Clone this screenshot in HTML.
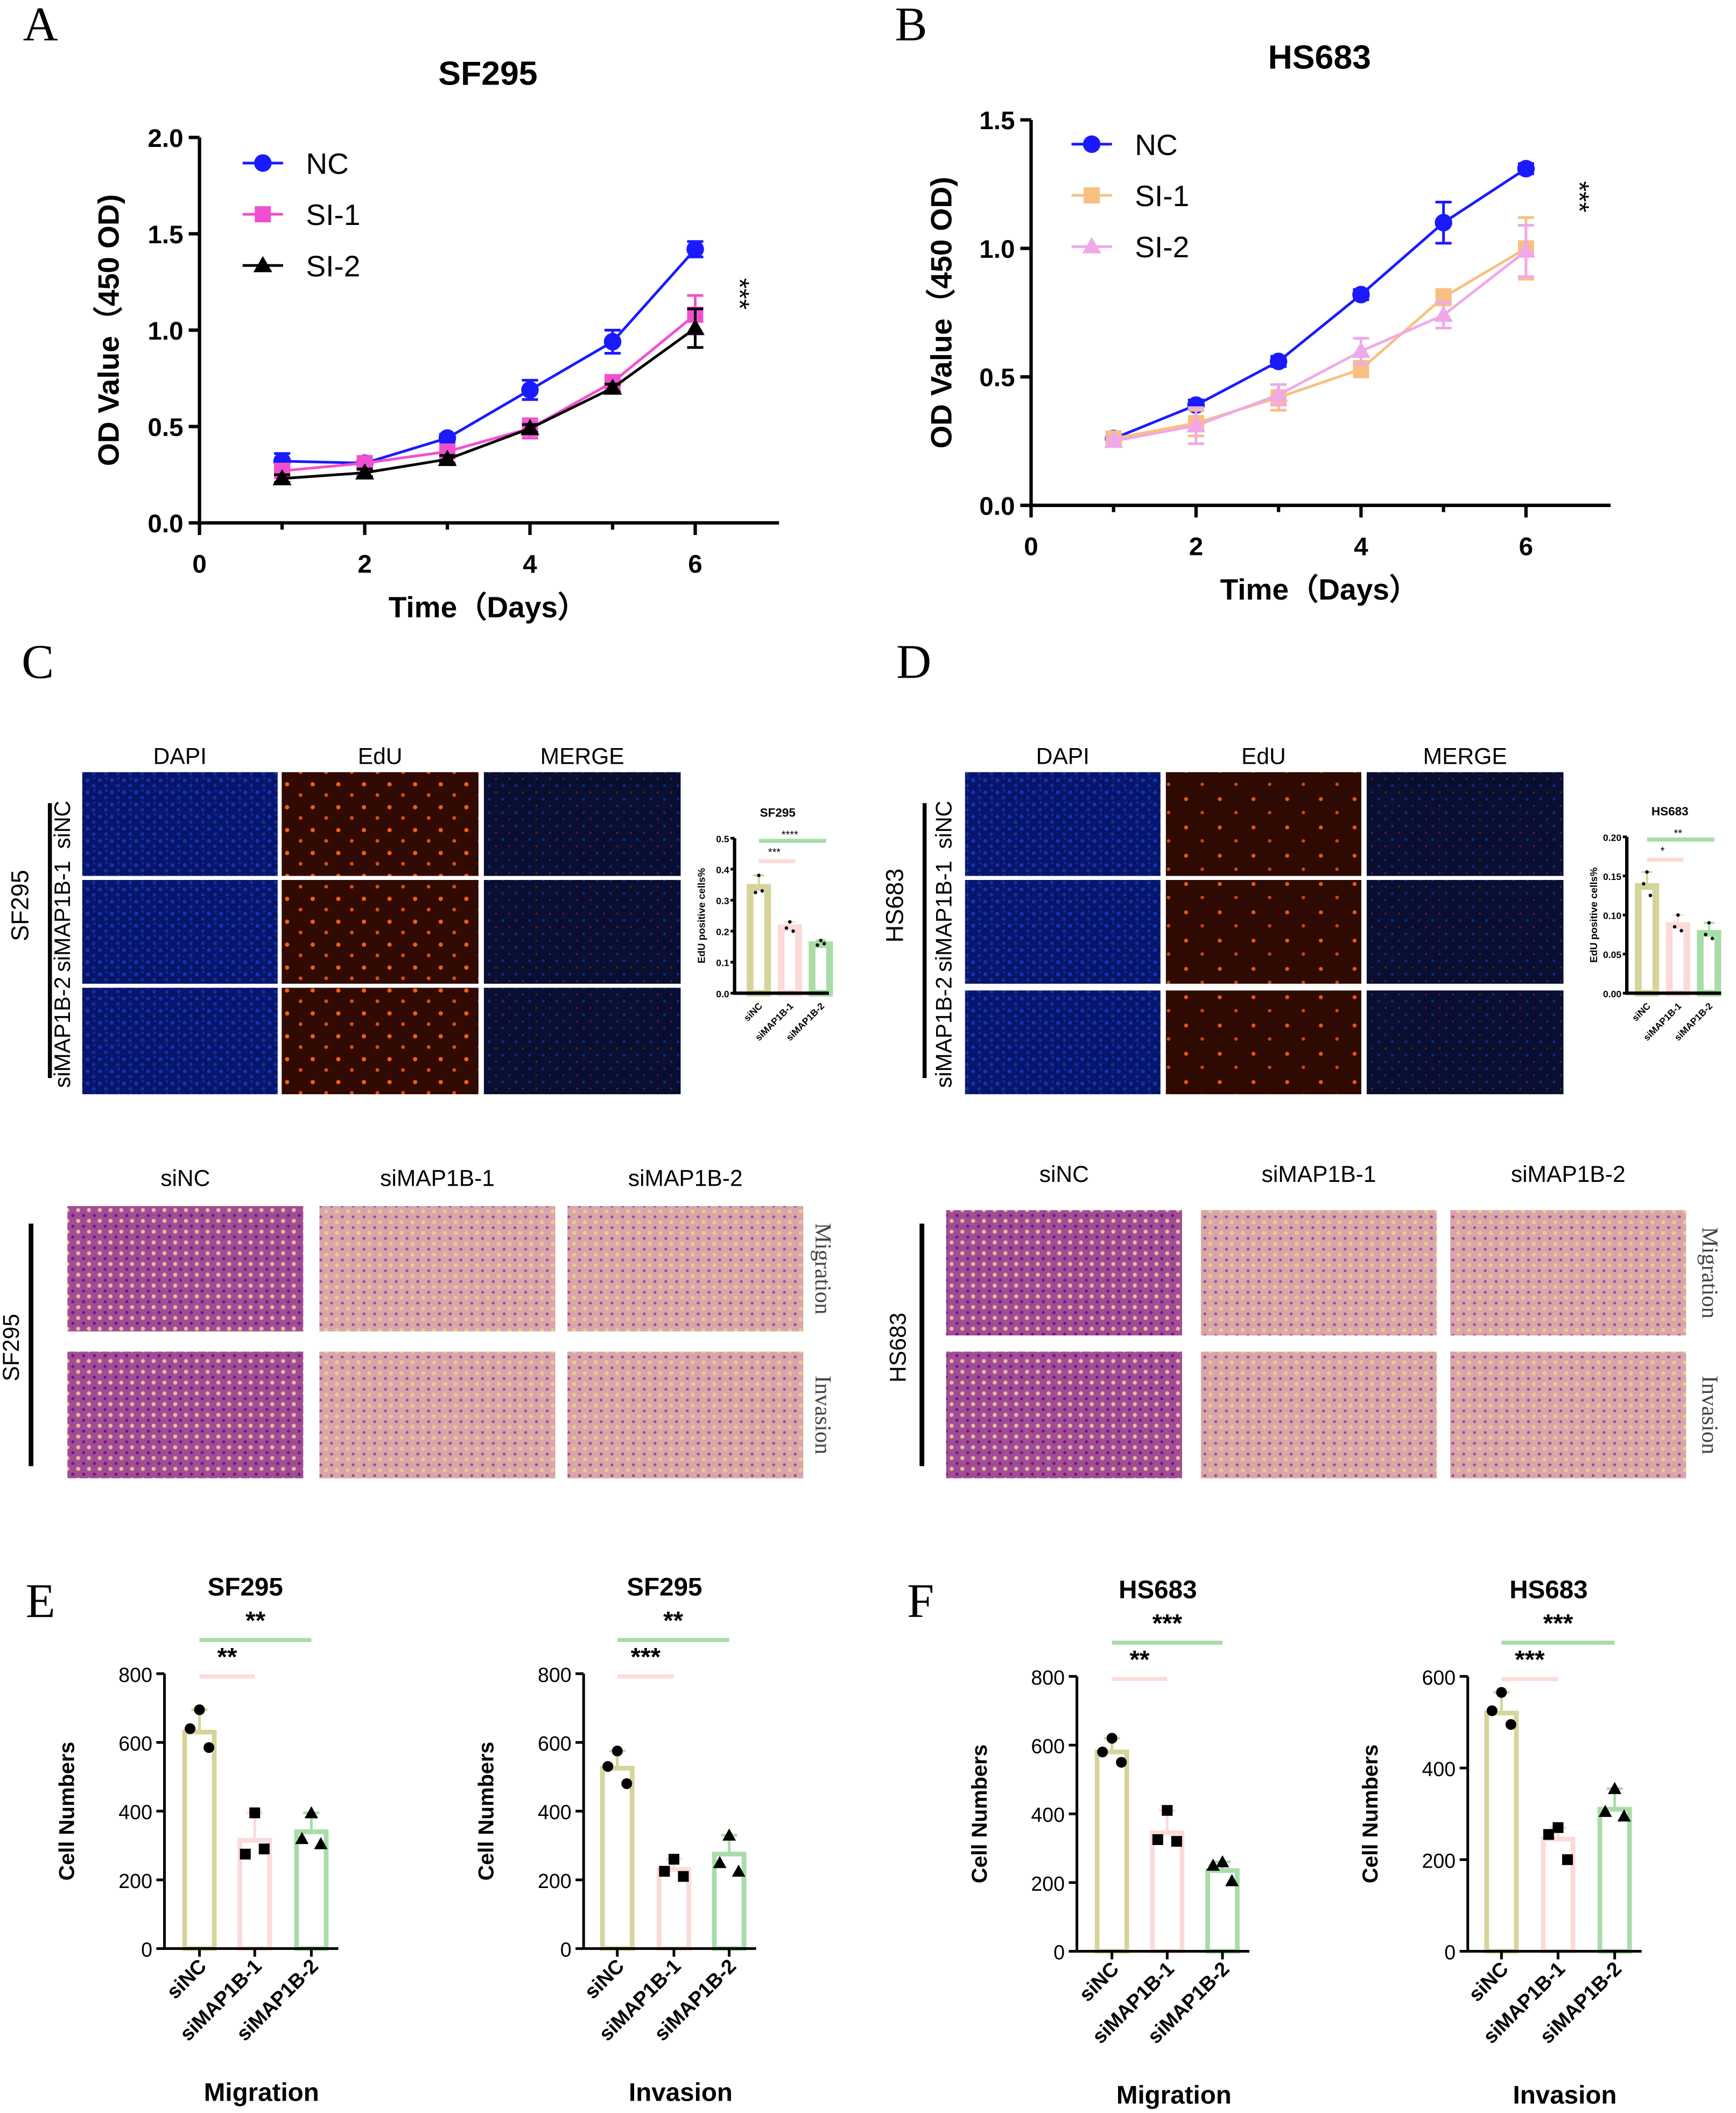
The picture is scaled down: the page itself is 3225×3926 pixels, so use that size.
<!DOCTYPE html>
<html><head><meta charset="utf-8"><style>
html,body{margin:0;padding:0;background:#fff;}
svg{display:block;font-family:"Liberation Sans",sans-serif;}
</style></head><body>
<svg id="fig" xmlns="http://www.w3.org/2000/svg" width="3225" height="3926" viewBox="0 0 1288 1568">
<defs>
<pattern id="pDapi" width="9" height="9" patternUnits="userSpaceOnUse"><rect width="9" height="9" fill="#07156a"/><circle cx="2" cy="3" r="1.5" fill="#1532b0"/><circle cx="6.5" cy="7" r="1.4" fill="#142ea0"/><circle cx="7" cy="1.5" r="1" fill="#12289a"/></pattern>
<pattern id="pEdu" width="19" height="17" patternUnits="userSpaceOnUse"><rect width="19" height="17" fill="#300a03"/><circle cx="4" cy="4" r="1.6" fill="#f06010"/><circle cx="14" cy="12" r="1.4" fill="#d85010"/></pattern>
<pattern id="pEdu2" width="25" height="21" patternUnits="userSpaceOnUse"><rect width="25" height="21" fill="#2e0a03"/><circle cx="5" cy="5" r="1.5" fill="#e85810"/><circle cx="17" cy="15" r="1.3" fill="#c84a10"/></pattern>
<pattern id="pMerge" width="10" height="10" patternUnits="userSpaceOnUse"><rect width="10" height="10" fill="#090f30"/><circle cx="3" cy="3" r="1.1" fill="#18257a"/><circle cx="8" cy="8" r="0.8" fill="#5a1a45"/></pattern>
<pattern id="pTwDense" width="8" height="8" patternUnits="userSpaceOnUse"><rect width="8" height="8" fill="#a24c98"/><circle cx="2" cy="2" r="1.5" fill="#e4c090"/><circle cx="6" cy="6" r="1.2" fill="#6a1e78"/></pattern>
<pattern id="pTwLight" width="8" height="8" patternUnits="userSpaceOnUse"><rect width="8" height="8" fill="#d8a6a8"/><circle cx="2" cy="3" r="1.5" fill="#ecc890"/><circle cx="6" cy="7" r="1.1" fill="#a04a9c"/></pattern>
</defs>
</svg>
<script>
const svg=document.getElementById('fig');
const NS='http://www.w3.org/2000/svg';
function mk(tag,attrs,parent){const e=document.createElementNS(NS,tag);for(const k in attrs)e.setAttribute(k,attrs[k]);(parent||svg).appendChild(e);return e;}
function txt(x,y,s,size,o){o=o||{};const e=mk('text',{x:x,y:y,'font-size':size,'text-anchor':o.a||'middle','font-weight':o.w||'normal',fill:o.fill||'#000'});if(o.ff)e.setAttribute('font-family',o.ff);if(o.rot!==undefined)e.setAttribute('transform','rotate('+o.rot+' '+x+' '+y+')');e.textContent=s;return e;}

// ---------- data: panel A ----------
const daysA=[1,2,3,4,5,6];
const ncA=[0.32,0.31,0.44,0.69,0.94,1.42];
const si1A=[0.27,0.31,0.37,0.49,0.73,1.08];
const si2A=[0.23,0.26,0.33,0.49,0.70,1.01];
const ncAerr=[0.04,0.02,0.02,0.05,0.06,0.04];
const si1Aerr=[0.02,0.02,0.02,0.05,0.03,0.1];
const si2Aerr=[0.02,0.02,0.02,0.02,0.02,0.1];
const yTicksA=[0,0.5,1.0,1.5,2.0];
const yTickLabelsA=['0.0','0.5','1.0','1.5','2.0'];
const xTicks=[0,2,4,6];
// ---------- data: panel B ----------
const daysB=[1,2,3,4,5,6];
const ncB=[0.26,0.39,0.56,0.82,1.10,1.31];
const si1B=[0.26,0.32,0.42,0.53,0.81,1.00];
const si2B=[0.25,0.31,0.43,0.60,0.74,0.99];
const ncBerr=[0.02,0.02,0.02,0.02,0.08,0.02];
const si1Berr=[0.02,0.05,0.05,0.03,0.03,0.12];
const si2Berr=[0.02,0.07,0.04,0.05,0.05,0.1];
const yTicksB=[0,0.5,1.0,1.5];
const yTickLabelsB=['0.0','0.5','1.0','1.5'];

function marker(g,shape,x,y,c){
  let e;
  if(shape==='circle') e=mk('circle',{cx:x,cy:y,r:6.5,fill:c},g);
  else if(shape==='square') e=mk('rect',{x:x-6,y:y-6,width:12,height:12,fill:c},g);
  else e=mk('polygon',{points:(x)+','+(y-7)+' '+(x-7)+','+(y+5)+' '+(x+7)+','+(y+5),fill:c},g);
  return e;
}
function lineChart(c){
  const g=mk('g',{});
  
  
  const X=v=>c.x0+v*c.xs, Y=v=>c.y0-v*c.ys;
  const ax=mk('path',{d:'M'+c.x0+','+Y(c.ymax)+' L'+c.x0+','+c.y0+' L'+c.xend+','+c.y0,stroke:'#000','stroke-width':2.5,fill:'none'},g);
  
  
  c.yt.forEach((v,i)=>{mk('line',{x1:c.x0-8,x2:c.x0,y1:Y(v),y2:Y(v),stroke:'#000','stroke-width':2.5},g);
    const t=txt(c.x0-12,Y(v)+7,c.ytl[i],19,{a:'end',w:'bold'});});
  for(let d=0;d<=6;d++){mk('line',{x1:X(d),x2:X(d),y1:c.y0,y2:c.y0+(d%2?5:9),stroke:'#000','stroke-width':2.5},g);}
  xTicks.forEach(v=>{const t=txt(X(v),c.y0+37,String(v),19,{w:'bold'});});
  c.series.forEach(s=>{
    const sg=mk('g',{},g);
    
    
    mk('polyline',{points:c.days.map((d,i)=>X(d)+','+Y(s.v[i])).join(' '),fill:'none',stroke:s.c,'stroke-width':2},sg);
    c.days.forEach((d,i)=>{const e=s.e[i];mk('path',{d:'M'+X(d)+','+Y(s.v[i]-e)+' V'+Y(s.v[i]+e)+' M'+(X(d)-6)+','+Y(s.v[i]+e)+' h12 M'+(X(d)-6)+','+Y(s.v[i]-e)+' h12',stroke:s.c,'stroke-width':2,fill:'none'},sg);
      const m=marker(sg,s.shape,X(d),Y(s.v[i]),s.c);});
  });
  c.series.forEach((s,i)=>{const ly=c.ly+i*38;
    mk('line',{x1:c.lx-15,x2:c.lx+15,y1:ly,y2:ly,stroke:s.c,'stroke-width':2},g);
    marker(g,s.shape,c.lx,ly,s.c);
    const t=txt(c.lx+32,ly+8,s.label,22,{a:'start'});});
  const tt=txt(c.tx,c.ty,c.title,25,{w:'bold'});
  const yl=txt(c.ylx,c.yly,'OD Value（450 OD)',22,{w:'bold',rot:-90});
  const xl=txt(c.xlx,c.xly,'Time（Days）',22,{w:'bold'});
  const st=txt(c.sx,c.sy,'***',20,{rot:90});
}
lineChart({name:'chart-a-sf295',x0:148,xs:61.3,y0:388,ys:143,ymax:2.0,xend:578,yt:yTicksA,ytl:yTickLabelsA,days:daysA,
 series:[{label:'NC',v:ncA,e:ncAerr,c:'#1a1aff',shape:'circle'},{label:'SI-1',v:si1A,e:si1Aerr,c:'#f050d0',shape:'square'},{label:'SI-2',v:si2A,e:si2Aerr,c:'#000',shape:'tri'}],
 lx:195,ly:121,tx:362,ty:63,title:'SF295',ylx:88,yly:245,xlx:362,xly:458,sx:542,sy:218});
lineChart({name:'chart-b-hs683',x0:765,xs:61.2,y0:375,ys:190.7,ymax:1.5,xend:1195,yt:yTicksB,ytl:yTickLabelsB,days:daysB,
 series:[{label:'NC',v:ncB,e:ncBerr,c:'#1a1aff',shape:'circle'},{label:'SI-1',v:si1B,e:si1Berr,c:'#f8c080',shape:'square'},{label:'SI-2',v:si2B,e:si2Berr,c:'#f0a8e8',shape:'tri'}],
 lx:810,ly:107,tx:979,ty:51,title:'HS683',ylx:706,yly:232,xlx:979,xly:445,sx:1165,sy:146});

// panel letters
[['A',30,30],['B',676,30],['C',28,503],['D',678,503],['E',30,1200],['F',683,1200]].forEach(p=>{const t=txt(p[1],p[2],p[0],36,{ff:'"Liberation Serif",serif'});});

// ---------- EdU image grids ----------
function edu(cols,rows,fills,line,label,lx){
  ['DAPI','EdU','MERGE'].forEach((h,i)=>{const t=txt((cols[i][0]+cols[i][1])/2,567,h,17);});
  rows.forEach((r,ri)=>cols.forEach((c,ci)=>{const e=mk('rect',{x:c[0],y:r[0],width:c[1]-c[0],height:r[1]-r[0],fill:fills[ci][ri]});}));
  const names=['siNC','siMAP1B-1','siMAP1B-2'];
  const cy=[612,680,766];
  names.forEach((n,ri)=>{const t=txt(lx+22,cy[ri],n,16.5,{rot:-90});});
  mk('line',{x1:line,x2:line,y1:596,y2:800,stroke:'#000','stroke-width':3});
  const t=txt(line-16,672,label,18,{rot:-90});
}
edu([[61,206],[209,355],[359,505]],[[573,650],[653,730],[733,812]],[['url(#pDapi)','url(#pDapi)','url(#pDapi)'],['url(#pEdu)','url(#pEdu)','url(#pEdu)'],['url(#pMerge)','url(#pMerge)','url(#pMerge)']],37,'SF295',30);
edu([[716,861],[865,1010],[1014,1160]],[[573,650],[653,730],[735,812]],[['url(#pDapi)','url(#pDapi)','url(#pDapi)'],['url(#pEdu2)','url(#pEdu2)','url(#pEdu2)'],['url(#pMerge)','url(#pMerge)','url(#pMerge)']],686,'HS683',684);

// ---------- small EdU bar charts ----------
const eduCats=['siNC','siMAP1B-1','siMAP1B-2'];
const eduSF=[0.35,0.22,0.165];
const eduSFpts=[[0.38,0.325,0.33],[0.23,0.21,0.20],[0.17,0.155,0.16]];
const eduHS=[0.14,0.09,0.08];
const eduHSpts=[[0.155,0.14,0.125],[0.10,0.085,0.08],[0.09,0.075,0.07]];
const eduTicksSF=[0,0.1,0.2,0.3,0.4,0.5];
const eduTicksHS=[0,0.05,0.10,0.15,0.20];
const eduSigSF=['***','****'];
const eduSigHS=['*','**'];
const barCols=['#d5d49a','#fcdada','#a8dca8'];
function smallBar(c){
  const g=mk('g',{});
  
  
  const Y=v=>c.y0-v/c.max*(c.y0-c.ytop);
  c.vals.forEach((v,i)=>{const x=c.bx[i];const b=mk('rect',{x:x-6.5,y:Y(v)+2,width:13,height:c.y0-Y(v)-2,fill:'#fff',stroke:barCols[i],'stroke-width':5},g);
    const mx=Math.max(...c.pts[i]);
    mk('path',{d:'M'+x+','+Y(v)+' V'+Y(mx)+' M'+(x-4)+','+Y(mx)+' h8',stroke:barCols[i],'stroke-width':1.5,fill:'none'},g);
    c.pts[i].forEach((p,j)=>{mk('circle',{cx:x+(j===0?0:(j===1?-2.5:2.5)),cy:Y(p),r:1.3,fill:'#000'},g);});
    txt(x+3,c.y0+10,c.cats[i],7,{a:'end',w:'bold',rot:-45});});
  mk('path',{d:'M'+c.x0+','+c.ytop+' V'+c.y0+' H'+(c.x0+70),stroke:'#000','stroke-width':2.5,fill:'none'},g);
  c.ticks.forEach(v=>{mk('line',{x1:c.x0-3,x2:c.x0,y1:Y(v),y2:Y(v),stroke:'#000','stroke-width':2},g);txt(c.x0-4,Y(v)+3,String(v.toFixed(c.dec)),7,{a:'end',w:'bold'});});
  txt(c.x0+32,c.ytop-16,c.title,9,{w:'bold'});
  txt(c.x0-22,(c.ytop+c.y0)/2,'EdU positive cells%',7.5,{w:'bold',rot:-90});
  mk('line',{x1:c.bx[0],x2:c.bx[1]+4,y1:c.ytop+17,y2:c.ytop+17,stroke:'#fcdada','stroke-width':3},g);
  mk('line',{x1:c.bx[0],x2:c.bx[2]+4,y1:c.ytop+2,y2:c.ytop+2,stroke:'#a8dca8','stroke-width':3},g);
  txt((c.bx[0]+c.bx[1])/2,c.ytop+13,c.sig[0],8);
  txt((c.bx[0]+c.bx[2])/2,c.ytop,c.sig[1],8);
}
smallBar({name:'edu-chart-sf295',x0:545,y0:737,ytop:622,max:0.5,vals:eduSF,pts:eduSFpts,ticks:eduTicksSF,dec:1,bx:[563,586,609],cats:eduCats,title:'SF295',sig:eduSigSF});
smallBar({name:'edu-chart-hs683',x0:1207,y0:737,ytop:621,max:0.2,vals:eduHS,pts:eduHSpts,ticks:eduTicksHS,dec:2,bx:[1222,1245,1268],cats:eduCats,title:'HS683',sig:eduSigHS});

// ---------- transwell ----------
function tw(cols,rows,hy,line,label,lx,rx){
  const names=['siNC','siMAP1B-1','siMAP1B-2'];
  cols.forEach((c,i)=>{const t=txt((c[0]+c[1])/2,hy,names[i],17);});
  rows.forEach((r,ri)=>cols.forEach((c,ci)=>{const e=mk('rect',{x:c[0],y:r[0],width:c[1]-c[0],height:r[1]-r[0],fill:ci===0?'url(#pTwDense)':'url(#pTwLight)'});}));
  ['Migration','Invasion'].forEach((s,i)=>{const t=txt(rx,(rows[i][0]+rows[i][1])/2,s,17,{rot:90,ff:'"Liberation Serif",serif',fill:'#444'});});
  mk('line',{x1:line,x2:line,y1:908,y2:1088,stroke:'#000','stroke-width':3.5});
  const t=txt(lx,1000,label,17,{rot:-90});
}
tw([[50,225],[237,412],[421,596]],[[895,988],[1003,1097]],880,23,'SF295',14,605);
tw([[702,877],[891,1066],[1076,1251]],[[898,991],[1003,1097]],877,684,'HS683',672,1263);

// ---------- E/F bar charts ----------
const twCats=['siNC','siMAP1B-1','siMAP1B-2'];
const migSF=[630,315,340];
const migSFpts=[[695,640,585],[395,275,290],[395,320,305]];
const invSF=[525,230,275];
const invSFpts=[[575,530,480],[260,225,210],[330,250,225]];
const migHS=[580,345,235];
const migHSpts=[[620,580,550],[410,325,320],[260,250,205]];
const invHS=[520,245,310];
const invHSpts=[[565,525,495],[270,255,200],[355,305,295]];
const ticks800=[0,200,400,600,800];
const ticks600=[0,200,400,600];
function bigBar(c){
  const g=mk('g',{});
  
  
  const Y=v=>c.y0-v/c.max*(c.y0-c.ytop);
  c.vals.forEach((v,i)=>{const x=c.bx[i];
    const b=mk('rect',{x:x-11,y:Y(v),width:22,height:c.y0-Y(v),fill:'#fff',stroke:barCols[i],'stroke-width':3.5},g);
    
    
    const pts=c.pts[i];const mx=Math.max(...pts);
    mk('path',{d:'M'+x+','+Y(v)+' V'+Y(mx)+' M'+(x-6)+','+Y(mx)+' h12',stroke:barCols[i],'stroke-width':2,fill:'none'},g);
    pts.forEach((p,j)=>{const px=x+(j===0?0:(j===1?-7:7));const m=marker(g,['circle','square','tri'][i],px,Y(p),'#000');if(i===0)m.setAttribute('r',4);if(i===1){m.setAttribute('width',8);m.setAttribute('height',8);m.setAttribute('x',px-4);m.setAttribute('y',Y(p)-4);}if(i===2)m.setAttribute('points',px+','+(Y(p)-5)+' '+(px-5)+','+(Y(p)+4)+' '+(px+5)+','+(Y(p)+4));});
    const lt=txt(x+6,c.y0+14,c.cats[i],15,{a:'end',w:'bold',rot:-45});
    mk('line',{x1:x,x2:x,y1:c.y0,y2:c.y0+6,stroke:'#000','stroke-width':2},g);
  });
  mk('path',{d:'M'+c.x0+','+c.ytop+' V'+c.y0+' H'+(c.bx[2]+20),stroke:'#000','stroke-width':2,fill:'none'},g);
  c.ticks.forEach(v=>{mk('line',{x1:c.x0-6,x2:c.x0,y1:Y(v),y2:Y(v),stroke:'#000','stroke-width':2},g);const t=txt(c.x0-9,Y(v)+6,String(v),15,{a:'end'});});
  const tt=txt(c.bx[1]-7,c.ytop-58,c.title,19,{w:'bold'});
  const yl=txt(c.x0-67,(c.ytop+c.y0)/2,'Cell Numbers',16,{w:'bold',rot:-90});
  const xl=txt(c.bx[1]+5,c.y0+113,c.xlab,19,{w:'bold'});
  mk('line',{x1:c.bx[0],x2:c.bx[1],y1:c.ytop+2,y2:c.ytop+2,stroke:'#fcdada','stroke-width':3},g);
  mk('line',{x1:c.bx[0],x2:c.bx[2],y1:c.ytop-25,y2:c.ytop-25,stroke:'#a8dca8','stroke-width':3},g);
  txt((c.bx[0]+c.bx[1])/2,c.ytop-6,c.sig[0],19,{w:'bold'});
  txt((c.bx[0]+c.bx[2])/2,c.ytop-33,c.sig[1],19,{w:'bold'});
}
bigBar({name:'chart-e-migration',x0:122,y0:1446,ytop:1242,max:800,vals:migSF,pts:migSFpts,ticks:ticks800,bx:[148,189,231],cats:twCats,title:'SF295',xlab:'Migration',sig:['**','**']});
bigBar({name:'chart-e-invasion',x0:433,y0:1446,ytop:1242,max:800,vals:invSF,pts:invSFpts,ticks:ticks800,bx:[458,500,541],cats:twCats,title:'SF295',xlab:'Invasion',sig:['***','**']});
bigBar({name:'chart-f-migration',x0:799,y0:1448,ytop:1244,max:800,vals:migHS,pts:migHSpts,ticks:ticks800,bx:[825,866,907],cats:twCats,title:'HS683',xlab:'Migration',sig:['**','***']});
bigBar({name:'chart-f-invasion',x0:1089,y0:1448,ytop:1244,max:600,vals:invHS,pts:invHSpts,ticks:ticks600,bx:[1114,1156,1198],cats:twCats,title:'HS683',xlab:'Invasion',sig:['***','***']});
</script>
</body></html>
